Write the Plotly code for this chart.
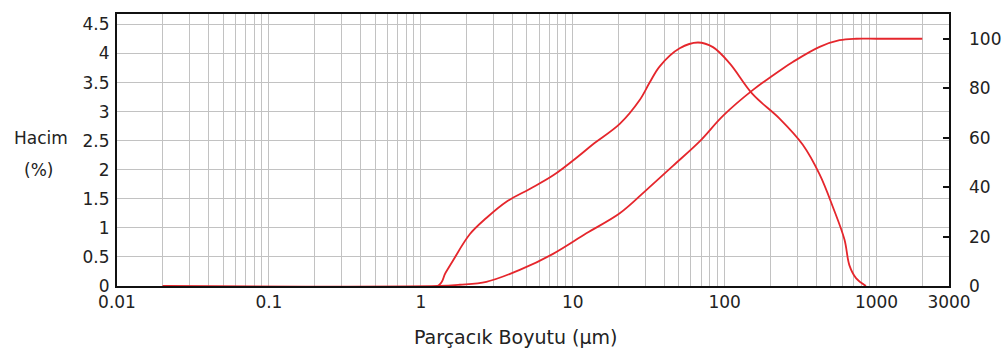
import plotly.graph_objects as go

# Frequency distribution (left axis, Hacim %)
freq_x = [0.02, 1.29, 1.45, 1.63, 2.1, 2.7, 3.66, 5.21, 7.4, 11.1, 13.6, 20.4, 27.6,
          32.1, 37.4, 50.6, 66.7, 83.8, 108, 153, 230, 327, 422, 516, 615, 664, 735, 852]
freq_y = [0, 0, 0.22, 0.44, 0.89, 1.17, 1.45, 1.67, 1.90, 2.25, 2.44, 2.79, 3.20,
          3.50, 3.78, 4.09, 4.19, 4.11, 3.83, 3.30, 2.88, 2.43, 1.92, 1.36, 0.80, 0.35, 0.13, 0]

# Cumulative distribution (right axis, %)
cum_x = [0.02, 1.29, 1.8, 2.7, 4.48, 7.42, 12.3, 20.4, 30.5, 45.7, 68.5, 97.5,
         153, 242, 281, 422, 571, 735, 1000, 2000]
cum_y = [0, 0, 0.5, 1.7, 6.5, 13.0, 21.3, 29.4, 38.8, 48.6, 58.5, 68.8,
         79.2, 88.0, 90.6, 96.7, 99.4, 100, 100, 100]

# Axis ticks
x_grid = [m * 10 ** e for e in range(-2, 4) for m in range(1, 10)] + [2000, 3000]
x_grid = [v for v in x_grid if v <= 3000]
x_labels = {0.01: "0.01", 0.1: "0.1", 1: "1", 10: "10", 100: "100", 1000: "1000", 3000: "3000"}
y_left_vals = [0, 0.5, 1, 1.5, 2, 2.5, 3, 3.5, 4, 4.5]
y_left_text = ["0", "0.5", "1", "1.5", "2", "2.5", "3", "3.5", "4", "4.5"]
y_right_vals = [0, 20, 40, 60, 80, 100]

RED = "#e5262c"
FONT = "DejaVu Sans"


def xtext(v):
    for k, t in x_labels.items():
        if abs(v - k) < 1e-9 * max(1, k):
            return t
    return ""


fig = go.Figure()
fig.add_trace(go.Scatter(x=freq_x, y=freq_y, mode="lines",
                         line=dict(color=RED, width=1.8, shape="spline", smoothing=1.0),
                         showlegend=False))
fig.add_trace(go.Scatter(x=cum_x, y=cum_y, mode="lines", yaxis="y2",
                         line=dict(color=RED, width=1.8, shape="spline", smoothing=1.0),
                         showlegend=False))

fig.update_layout(
    width=1007, height=352,
    margin=dict(l=117, r=58, t=14, b=66, autoexpand=False),
    paper_bgcolor="white", plot_bgcolor="white",
    font=dict(family=FONT, size=17, color="#222222"),
    xaxis=dict(type="log", range=[-2, 3.4771], tickmode="array",
               tickvals=x_grid, ticktext=[xtext(v) for v in x_grid],
               showgrid=True, gridcolor="#c2c2c2", gridwidth=1,
               showline=True, linecolor="#111111", linewidth=2, mirror=True,
               ticks="", zeroline=False, automargin=False),
    yaxis=dict(range=[0, 4.68], tickmode="array", tickvals=y_left_vals, ticktext=y_left_text,
               showgrid=True, gridcolor="#c2c2c2", gridwidth=1,
               showline=True, linecolor="#111111", linewidth=2, mirror=True,
               ticks="", zeroline=False, ticklabelstandoff=2, automargin=False),
    yaxis2=dict(range=[0, 110], overlaying="y", side="right", tickmode="array",
                tickvals=y_right_vals, showgrid=False, zeroline=False,
                ticks="inside", ticklen=6, tickwidth=2, tickcolor="#111111",
                ticklabelstandoff=19, automargin=False),
)

fig.add_annotation(text="Hacim", x=-(117 - 41) / 832, y=(286 - 138) / 272,
                   xref="paper", yref="paper", showarrow=False, xanchor="center", yanchor="middle")
fig.add_annotation(text="(%)", x=-(117 - 38) / 832, y=(286 - 170) / 272,
                   xref="paper", yref="paper", showarrow=False, xanchor="center", yanchor="middle")
fig.add_annotation(text="Parçacık Boyutu (µm)", x=(515 - 117) / 832, y=-(337 - 286) / 272,
                   xref="paper", yref="paper", showarrow=False, xanchor="center", yanchor="middle",
                   font=dict(size=19))

fig.write_html("out.html")
